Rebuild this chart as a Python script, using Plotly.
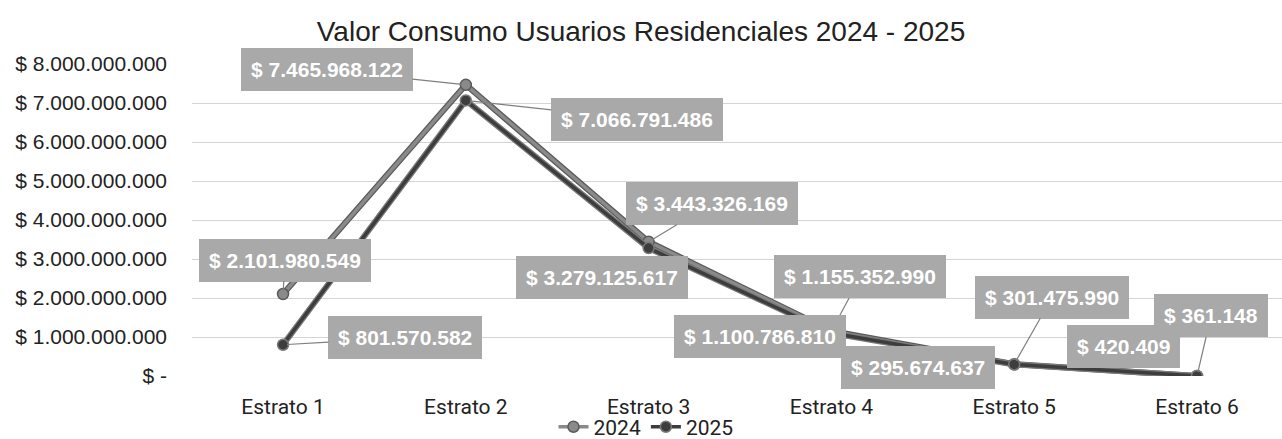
import plotly.graph_objects as go

# Consumption value by socioeconomic stratum (COP)
categorias = ["Estrato 1", "Estrato 2", "Estrato 3", "Estrato 4", "Estrato 5", "Estrato 6"]
valores_2024 = [2101980549, 7465968122, 3443326169, 1155352990, 301475990, 361148]
valores_2025 = [801570582, 7066791486, 3279125617, 1100786810, 295674637, 420409]

y_ticks = [0, 1e9, 2e9, 3e9, 4e9, 5e9, 6e9, 7e9, 8e9]
y_tick_text = ["$ -", "$ 1.000.000.000", "$ 2.000.000.000", "$ 3.000.000.000",
               "$ 4.000.000.000", "$ 5.000.000.000", "$ 6.000.000.000",
               "$ 7.000.000.000", "$ 8.000.000.000"]

# Label box placement (pixel offsets from each point) and whether a leader line is drawn
offsets_2024 = [(2, -34), (-139, -15), (63, -38), (29, -54), (38, -67), (14, -60)]
leaders_2024 = [True, True, True, True, True, True]
offsets_2025 = [(122, -7), (171, 19), (-47, 29), (-71, 3), (-96, 3), (-74, -29)]
leaders_2025 = [True, True, False, False, False, False]


def money(v):
    return "$ " + f"{v:,.0f}".replace(",", ".")


SANS = "Liberation Sans, Arial, sans-serif"
fig = go.Figure()

series = [
    ("2024", valores_2024, "#8a8a8a", "#5a5a5a"),
    ("2025", valores_2025, "#3d3d3d", "#7a7a7a"),
]
for name, vals, color, edge in series:
    # darker/lighter edge under the main stroke
    fig.add_trace(go.Scatter(
        x=categorias, y=vals, mode="lines", showlegend=False, hoverinfo="skip",
        line=dict(color=edge, width=6),
    ))
    fig.add_trace(go.Scatter(
        x=categorias, y=vals, mode="lines+markers", name=name,
        line=dict(color=color, width=3.5),
        marker=dict(size=11, color=color, line=dict(color=edge, width=1.5)),
    ))

label_font = dict(family=SANS, size=21, color="white", weight="bold")
for vals, offs, leads in [(valores_2024, offsets_2024, leaders_2024),
                          (valores_2025, offsets_2025, leaders_2025)]:
    for cat, v, (dx, dy), lead in zip(categorias, vals, offs, leads):
        common = dict(x=cat, y=v, xref="x", yref="y", text=money(v),
                      font=label_font, bgcolor="#a9a9a9", borderpad=9,
                      bordercolor="#a9a9a9", borderwidth=1)
        if lead:
            fig.add_annotation(**common, showarrow=True, ax=dx, ay=dy,
                               axref="pixel", ayref="pixel", arrowhead=0,
                               arrowwidth=1.2, arrowcolor="#7f7f7f", standoff=4)
        else:
            fig.add_annotation(**common, showarrow=False, xshift=dx, yshift=-dy)

fig.update_layout(
    width=1282, height=439,
    margin=dict(l=192, r=0, t=64, b=63, autoexpand=False),
    paper_bgcolor="white", plot_bgcolor="white",
    title=dict(text="Valor Consumo Usuarios Residenciales 2024 - 2025",
               x=0.5, xanchor="center", y=0.93, yanchor="middle",
               font=dict(family=SANS, size=28, color="#222222")),
    legend=dict(orientation="h", x=0.4165, xanchor="center", y=-0.098, yanchor="top",
                bgcolor="rgba(0,0,0,0)",
                font=dict(family="Roboto, sans-serif", size=21, color="#222222"),
                tracegroupgap=0),
    showlegend=True,
)
fig.update_xaxes(
    type="category", range=[-0.498, 5.465], showgrid=False, zeroline=False,
    showline=False, ticks="", ticklabelstandoff=16, automargin=False,
    tickfont=dict(family="Roboto, sans-serif", size=21, color="#222222"),
)
fig.update_yaxes(
    range=[0, 8e9], tickvals=y_ticks, ticktext=y_tick_text,
    showgrid=True, gridcolor="#d4d4d4", gridwidth=1, zeroline=False,
    showline=False, ticks="", ticklabelstandoff=24, automargin=False,
    tickfont=dict(family=SANS, size=21, color="#222222"),
)

fig.write_html("out.html")
